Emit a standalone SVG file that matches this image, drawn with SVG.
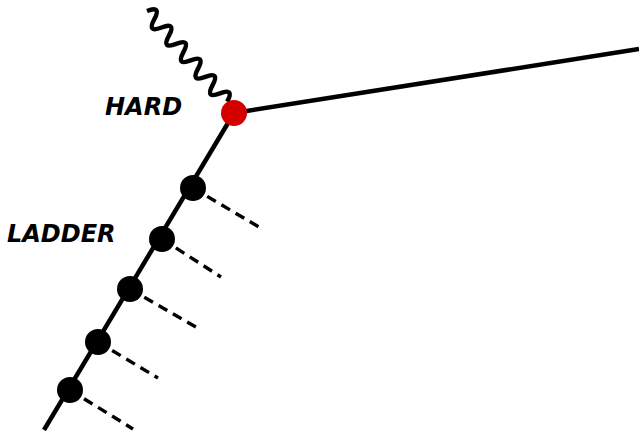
<svg xmlns="http://www.w3.org/2000/svg" width="639" height="431" viewBox="0 0 639 431">
<style>
.line{stroke:#000;stroke-width:4.5;fill:none;stroke-linecap:butt}
.dash{stroke:#000;stroke-width:3.4;fill:none;stroke-dasharray:10,6.5}
.dot{fill:#000}
.lbl{font-family:"DejaVu Sans",sans-serif;font-weight:bold;font-style:italic;font-size:24px;fill:#000}
</style>
<rect width="639" height="431" fill="#fff"/>
<g id="connectors">
<path class="line" d="M234,113 L639,49"/>
<path class="line" d="M234,113 L44,430"/>
<path class="line" transform="translate(147,11) rotate(48.5)" d="M0,0 q5.5,-15 11,0 t11,0 t11,0 t11,0 t11,0 t11,0 t11,0 t11,0 t11,0 t11,0 t11,0"/>
<path class="dash" d="M193,188 L259,227"/>
<path class="dash" d="M162,239 L221,277"/>
<path class="dash" d="M130,289 L196,327"/>
<path class="dash" d="M98,342 L158,378"/>
<path class="dash" d="M70,390 L133,429"/>
</g>
<g id="hard"><circle cx="234" cy="113" r="13" fill="#d40000"/></g>
<g id="n1"><circle class="dot" cx="193" cy="188" r="13"/></g>
<g id="n2"><circle class="dot" cx="162" cy="239" r="13"/></g>
<g id="n3"><circle class="dot" cx="130" cy="289" r="13"/></g>
<g id="n4"><circle class="dot" cx="98" cy="342" r="13"/></g>
<g id="n5"><circle class="dot" cx="70" cy="390" r="13"/></g>
<text class="lbl" x="105" y="115">HARD</text>
<text class="lbl" x="7" y="242">LADDER</text>
</svg>
